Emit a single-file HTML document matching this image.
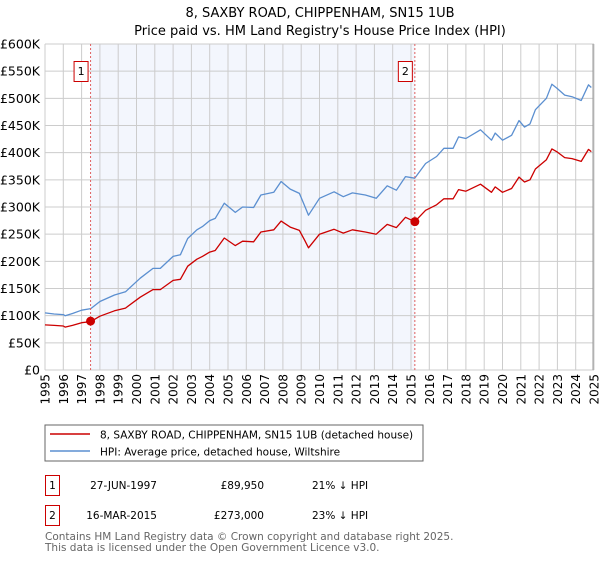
<!DOCTYPE html>
<html><head><meta charset="utf-8"><style>
body{margin:0;background:#fff;font-family:"DejaVu Sans","Liberation Sans",sans-serif;}
svg text{font-family:"DejaVu Sans","Liberation Sans",sans-serif;}
</style></head><body>
<svg id="chart" width="600" height="560" xmlns="http://www.w3.org/2000/svg">
<text x="320" y="17" text-anchor="middle" font-size="13">8, SAXBY ROAD, CHIPPENHAM, SN15 1UB</text>
<text x="320" y="35" text-anchor="middle" font-size="13">Price paid vs. HM Land Registry's House Price Index (HPI)</text>
<g id="plot"></g>
<rect x="45" y="425" width="378" height="36" fill="#fff" stroke="#666"/>
<line x1="50" y1="434" x2="90" y2="434" stroke="#cc0000" stroke-width="1.5"/>
<text x="100" y="438.5" font-size="10.5">8, SAXBY ROAD, CHIPPENHAM, SN15 1UB (detached house)</text>
<line x1="50" y1="451" x2="90" y2="451" stroke="#5b8fd0" stroke-width="1.5"/>
<text x="100" y="455.5" font-size="10.5">HPI: Average price, detached house, Wiltshire</text>
<g>
<rect x="45.5" y="475.5" width="14" height="20" fill="#fff" stroke="#cc0000"/>
<text x="52.5" y="489" font-size="10.5" text-anchor="middle">1</text>
<text x="157" y="489" font-size="10.5" text-anchor="end">27-JUN-1997</text>
<text x="264" y="489" font-size="10.5" text-anchor="end">£89,950</text>
<text x="312" y="489" font-size="10.5">21% ↓ HPI</text>
</g>
<g>
<rect x="45.5" y="505.5" width="14" height="20" fill="#fff" stroke="#cc0000"/>
<text x="52.5" y="519" font-size="10.5" text-anchor="middle">2</text>
<text x="157" y="519" font-size="10.5" text-anchor="end">16-MAR-2015</text>
<text x="264" y="519" font-size="10.5" text-anchor="end">£273,000</text>
<text x="312" y="519" font-size="10.5">23% ↓ HPI</text>
</g>
<text x="45" y="540" font-size="10.5" fill="#666">Contains HM Land Registry data © Crown copyright and database right 2025.</text>
<text x="45" y="551" font-size="10.5" fill="#666">This data is licensed under the Open Government Licence v3.0.</text>
</svg>
<script>
const years=[1995,1996,1997,1998,1999,2000,2001,2002,2003,2004,2005,2006,2007,2008,2009,2010,2011,2012,2013,2014,2015,2016,2017,2018,2019,2020,2021,2022,2023,2024,2025];
const yTicks=[0,50,100,150,200,250,300,350,400,450,500,550,600];
const yTickLabels=["£0","£50K","£100K","£150K","£200K","£250K","£300K","£350K","£400K","£450K","£500K","£550K","£600K"];
const hpiDates=[1995,1995.5,1996,1996.1,1996.5,1997,1997.5,1998,1998.8,1999.4,2000.2,2000.9,2001.3,2002,2002.4,2002.8,2003.3,2003.6,2004,2004.3,2004.8,2005.4,2005.8,2006.4,2006.8,2007.5,2007.9,2008.4,2008.9,2009.2,2009.4,2010,2010.8,2011.3,2011.8,2012.5,2013.1,2013.7,2014.2,2014.7,2015.2,2015.8,2016.4,2016.8,2017.3,2017.6,2018,2018.8,2019.4,2019.6,2020,2020.5,2020.9,2021.2,2021.5,2021.8,2022.4,2022.7,2023,2023.4,2023.8,2024.3,2024.7,2024.85];
const hpiValues=[105,103,102,100,104,110,113,126,138,144,169,187,187,209,212,242,258,264,275,279,307,290,300,299,322,327,347,333,325,301,285,316,328,319,326,322,316,339,331,356,353,380,393,408,408,429,426,442,423,436,423,432,459,447,453,479,500,526,518,506,503,496,525,520];
const priceDates=hpiDates;
const priceValues=[83,82,81,79,82,87,89,99,109,114,134,148,148,165,167,191,204,209,217,220,243,229,237,236,254,258,274,263,257,238,225,250,259,252,258,254,250,268,262,281,273,294,304,315,315,332,329,342,327,337,327,334,355,346,350,370,387,407,401,391,389,384,406,402];
const sales=[{d:1997.49,v:89.95,label:"1"},{d:2015.21,v:273,label:"2"}];
const NS="http://www.w3.org/2000/svg";
const X0=45,X1=594,Y0=370,Y1=44;
const xs=d=>X0+(d-1995)/30*(X1-X0);
const ys=v=>Y0-v/600*(Y0-Y1);
const g=document.getElementById('plot');
function mk(tag,attrs){const e=document.createElementNS(NS,tag);for(const k in attrs)e.setAttribute(k,attrs[k]);g.appendChild(e);return e;}
let r=mk('rect',{x:xs(sales[0].d),y:Y1,width:xs(sales[1].d)-xs(sales[0].d),height:Y0-Y1,fill:'#f3f6fd'});


yTicks.forEach((t,i)=>{
 let l=mk('line',{x1:X0,x2:X1,y1:ys(t),y2:ys(t),stroke:'#ccc','stroke-width':1});
 
 
 let tx=mk('text',{x:40,y:ys(t)+4.5,'text-anchor':'end','font-size':12.5});
 tx.textContent=yTickLabels[i];
 
 
});
years.forEach(yr=>{
 let l=mk('line',{x1:xs(yr),x2:xs(yr),y1:Y1,y2:Y0,stroke:'#ccc','stroke-width':1});
 
 
 let tx=mk('text',{x:0,y:0,'text-anchor':'end','font-size':12,transform:`translate(${xs(yr)+4.5},374) rotate(-90)`});
 tx.textContent=yr;
 
 
});
let rb=mk('line',{x1:X1-1,x2:X1-1,y1:Y1,y2:Y0,stroke:'#999','stroke-width':1});


function path(ds,vs,col,name){
 let p=mk('polyline',{points:ds.map((d,i)=>xs(d).toFixed(1)+','+ys(vs[i]).toFixed(1)).join(' '),fill:'none',stroke:col,'stroke-width':1.3,'stroke-linejoin':'round'});
 
 
}
path(hpiDates,hpiValues,'#5b8fd0','hpi-line');
path(priceDates,priceValues,'#cc0000','price-paid-line');
sales.forEach(s=>{
 let l=mk('line',{x1:xs(s.d),x2:xs(s.d),y1:Y1,y2:Y0,stroke:'#e06060','stroke-dasharray':'2,2','stroke-width':1});
 
 
 let c=mk('circle',{cx:xs(s.d),cy:ys(s.v),r:4.5,fill:'#cc0000'});
 
 
 let b=mk('rect',{x:xs(s.d)-16.5,y:61.5,width:14,height:20,fill:'#fff',stroke:'#cc0000'});
 
 
 let t=mk('text',{x:xs(s.d)-9.5,y:75,'text-anchor':'middle','font-size':11});
 t.textContent=s.label;
 
 
});
</script>
</body></html>
